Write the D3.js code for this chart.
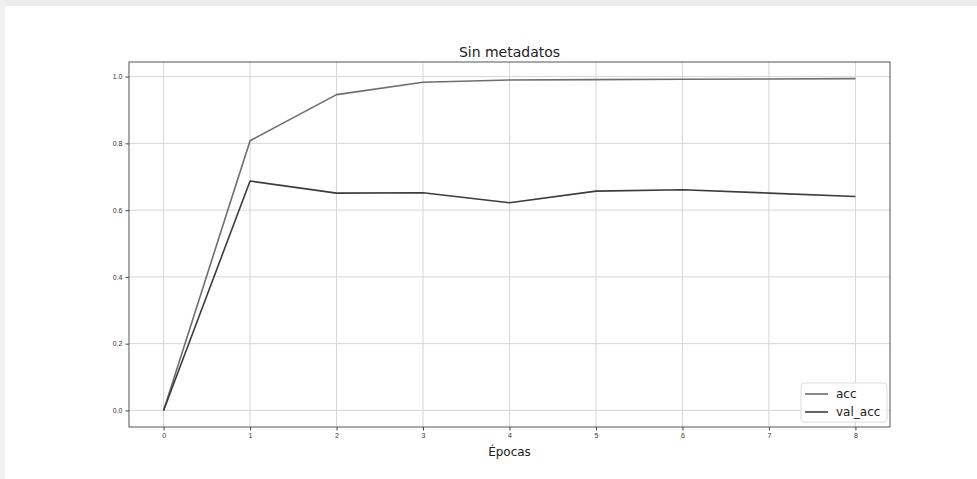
<!DOCTYPE html>
<html>
<head>
<meta charset="utf-8">
<script src="https://cdn.jsdelivr.net/npm/d3@7"></script>
<style>
  body { margin: 0; background: #fff; }
  svg { display: block; font-family: "DejaVu Sans", sans-serif; }
</style>
</head>
<body>
<script>
// data
var epochs = [0, 1, 2, 3, 4, 5, 6, 7, 8];
var acc = [0, 0.808, 0.946, 0.983, 0.990, 0.991, 0.992, 0.993, 0.994];
var valAcc = [0, 0.687, 0.651, 0.652, 0.622, 0.657, 0.661, 0.651, 0.641];
var yTicks = [0.0, 0.2, 0.4, 0.6, 0.8, 1.0];
var seriesNames = ["acc", "val_acc"];
var seriesColors = ["#6e6e6e", "#3c3c3c"];

var width = 977, height = 479;
var margin = {left: 129, right: 87, top: 62, bottom: 52};

var svg = d3.select("body").append("svg")
  .attr("width", width)
  .attr("height", height);

// card edges
svg.append("rect").attr("x", 0).attr("y", 0).attr("width", width).attr("height", 6).style("fill", "#ececec");
svg.append("rect").attr("x", 0).attr("y", 0).attr("width", 5).attr("height", height).style("fill", "#f0f0f0");

var x = d3.scaleLinear().domain([-0.4, 8.4]).range([margin.left, width - margin.right]);
var y = d3.scaleLinear().domain([-0.0497, 1.0437]).range([height - margin.bottom, margin.top]);

// grid
svg.append("g").selectAll("line")
  .data(epochs)
  .enter().append("line")
  .attr("x1", function(d) { return x(d); })
  .attr("x2", function(d) { return x(d); })
  .attr("y1", y.range()[1])
  .attr("y2", y.range()[0])
  .style("stroke", "#d6d6d6")
  .style("stroke-width", "1px");

svg.append("g").selectAll("line")
  .data(yTicks)
  .enter().append("line")
  .attr("x1", x.range()[0])
  .attr("x2", x.range()[1])
  .attr("y1", function(d) { return y(d); })
  .attr("y2", function(d) { return y(d); })
  .style("stroke", "#d6d6d6")
  .style("stroke-width", "1px");

// axes
var xAxis = d3.axisBottom(x).tickValues(epochs).tickSize(3.5).tickPadding(3).tickFormat(d3.format("d"));
var yAxis = d3.axisLeft(y).tickValues(yTicks).tickSize(3.5).tickPadding(3).tickFormat(d3.format(".1f"));

svg.append("g")
  .attr("transform", "translate(0," + y.range()[0] + ")")
  .call(xAxis)
  .call(function(g) {
    g.select(".domain").remove();
    g.selectAll("text").style("font-size", "7px").style("fill", "#333");
    g.selectAll("line").style("stroke", "#444");
  });

svg.append("g")
  .attr("transform", "translate(" + x.range()[0] + ",0)")
  .call(yAxis)
  .call(function(g) {
    g.select(".domain").remove();
    g.selectAll("text").style("font-size", "7px").style("fill", "#333");
    g.selectAll("line").style("stroke", "#444");
  });

// frame
svg.append("rect")
  .attr("x", x.range()[0])
  .attr("y", y.range()[1])
  .attr("width", x.range()[1] - x.range()[0])
  .attr("height", y.range()[0] - y.range()[1])
  .style("fill", "none")
  .style("stroke", "#555")
  .style("stroke-width", "1px");

// lines
var line = d3.line()
  .x(function(d, i) { return x(epochs[i]); })
  .y(function(d) { return y(d); });

[acc, valAcc].forEach(function(s, i) {
  svg.append("path")
    .datum(s)
    .attr("d", line)
    .style("fill", "none")
    .style("stroke", seriesColors[i])
    .style("stroke-width", "1.6px")
    .style("stroke-linejoin", "round");
});

// title and label
svg.append("text")
  .attr("x", (x.range()[0] + x.range()[1]) / 2)
  .attr("y", 57)
  .style("text-anchor", "middle")
  .style("font-size", "14px")
  .style("fill", "#222")
  .text("Sin metadatos");

svg.append("text")
  .attr("x", (x.range()[0] + x.range()[1]) / 2)
  .attr("y", 456)
  .style("text-anchor", "middle")
  .style("font-size", "12px")
  .style("fill", "#222")
  .text("Épocas");

// legend
var lg = svg.append("g").attr("transform", "translate(801,383)");
lg.append("rect")
  .attr("width", 86).attr("height", 39).attr("rx", 3)
  .style("fill", "#fff").style("fill-opacity", 0.8)
  .style("stroke", "#ddd");

var items = lg.selectAll(".legend")
  .data(seriesNames)
  .enter().append("g")
  .attr("class", "legend")
  .attr("transform", function(d, i) { return "translate(0," + (11 + i * 18) + ")"; });

items.append("line")
  .attr("x1", 4).attr("x2", 27)
  .style("stroke", function(d, i) { return seriesColors[i]; })
  .style("stroke-width", "1.6px");

items.append("text")
  .attr("x", 35)
  .attr("dy", "0.35em")
  .style("font-size", "12px")
  .style("fill", "#222")
  .text(function(d) { return d; });
</script>
</body>
</html>
